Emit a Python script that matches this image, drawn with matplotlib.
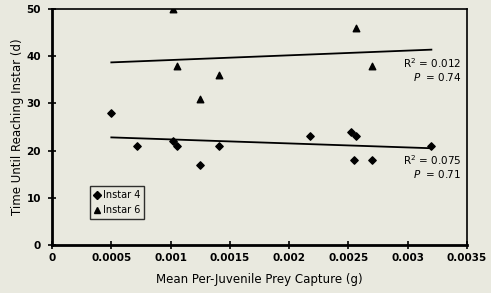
import numpy as np
import matplotlib.pyplot as plt
from matplotlib.lines import Line2D

# ----------------------------------------------------------------------------
# data
# Instar 4 (diamonds)
x4 = [0.0005, 0.00072, 0.00102, 0.00105, 0.00125, 0.00141,
      0.00218, 0.00252, 0.00256, 0.00255, 0.0027, 0.0032]
y4 = [28, 21, 22, 21, 17, 21, 23, 24, 23, 18, 18, 21]

# Instar 6 (triangles)
x6 = [0.00102, 0.00105, 0.00125, 0.00141, 0.00256, 0.0027]
y6 = [50, 38, 31, 36, 46, 38]

# regression lines (end points)
fit_x = [0.0005, 0.0032]
fit4 = [22.8, 20.5]
fit6 = [38.7, 41.4]

stats4 = "R$^2$ = 0.075\n$P$  = 0.71"
stats6 = "R$^2$ = 0.012\n$P$  = 0.74"

xticks = [0, 0.0005, 0.001, 0.0015, 0.002, 0.0025, 0.003, 0.0035]
xticklabels = ["0", "0.0005", "0.001", "0.0015", "0.002", "0.0025", "0.003", "0.0035"]
yticks = [0, 10, 20, 30, 40, 50]

# ----------------------------------------------------------------------------
bg = "#e9e9df"
plt.rcParams['font.family'] = ['DejaVu Sans']

fig = plt.figure(figsize=(4.91, 2.93), dpi=100, facecolor=bg)
ax = fig.add_axes([0.106, 0.164, 0.845, 0.805], facecolor=bg)

ax.plot(fit_x, fit4, color="black", lw=1.3)
ax.plot(fit_x, fit6, color="black", lw=1.3)
ax.scatter(x4, y4, marker="D", s=14, color="black", zorder=3)
ax.scatter(x6, y6, marker="^", s=22, color="black", zorder=3)

ax.set_xlim(0, 0.0035)
ax.set_ylim(0, 50)
ax.set_xticks(xticks)
ax.set_xticklabels(xticklabels)
ax.set_yticks(yticks)
ax.tick_params(direction="inout", length=6, width=1.2, labelsize=7.5)
ax.tick_params(axis="x", pad=3)
ax.tick_params(axis="y", pad=5)
for lab in ax.get_xticklabels() + ax.get_yticklabels():
    lab.set_fontweight("bold")
for side in ["left", "bottom"]:
    ax.spines[side].set_linewidth(2)
for side in ["top", "right"]:
    ax.spines[side].set_linewidth(1.2)

ax.set_xlabel("Mean Per-Juvenile Prey Capture (g)", fontsize=8.5, labelpad=7)
ax.set_ylabel("Time Until Reaching Instar (d)", fontsize=8.5, labelpad=1.5)

ax.text(0.003455, 40, stats6, ha="right", va="top", fontsize=7.5, linespacing=1.1)
ax.text(0.003455, 19.5, stats4, ha="right", va="top", fontsize=7.5, linespacing=1.1)

handles = [Line2D([], [], marker="D", ls="", color="black", markersize=4),
           Line2D([], [], marker="^", ls="", color="black", markersize=5)]
leg = ax.legend(handles, ["Instar 4", "Instar 6"], loc="lower left",
                bbox_to_anchor=(0.092, 0.11), fontsize=7, frameon=True,
                fancybox=False, handlelength=0.6, handletextpad=0.3,
                borderpad=0.4, labelspacing=0.5, borderaxespad=0)
leg.get_frame().set_edgecolor("black")
leg.get_frame().set_facecolor(bg)
leg.get_frame().set_linewidth(1)

plt.savefig("out.png", dpi=100, facecolor=bg)
